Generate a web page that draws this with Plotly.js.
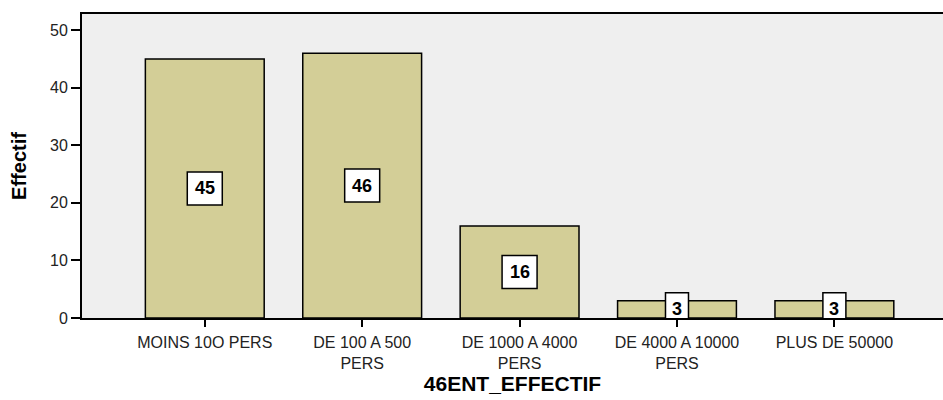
<!DOCTYPE html>
<html>
<head>
<meta charset="utf-8">
<script src="https://cdn.plot.ly/plotly-3.0.1.min.js"></script>
<style>html,body{margin:0;padding:0;background:#fff;}#chart{width:943px;height:400px;}</style>
</head>
<body>
<div id="chart"></div>
<script>
var categories = ["MOINS 10O PERS", "DE 100 A 500 PERS", "DE 1000 A 4000 PERS", "DE 4000 A 10000 PERS", "PLUS DE 50000"];
var tickLabels = ["MOINS 10O PERS", "DE 100 A 500<br>PERS", "DE 1000 A 4000<br>PERS", "DE 4000 A 10000<br>PERS", "PLUS DE 50000"];
var counts = [45, 46, 16, 3, 3];

var font = "Liberation Sans, Arial, sans-serif";

var trace = {
  type: "bar",
  x: categories,
  y: counts,
  width: 0.755,
  marker: {color: "#d3ce97", line: {color: "#000", width: 1.5}},
  hoverinfo: "x+y"
};

// label boxes: fixed pixel size, centred at half the bar height, clipped by the plot area
var shapes = counts.map(function(v, i){
  var half = String(v).length > 1 ? 17.5 : 11.5;
  return {
    type: "rect", layer: "above",
    xref: "x", yref: "y",
    xsizemode: "pixel", ysizemode: "pixel",
    xanchor: i, yanchor: v / 2,
    x0: -half, x1: half, y0: -16.5, y1: 16.5,
    fillcolor: "#fff",
    line: {color: "#000", width: 1.5}
  };
});

var annotations = counts.map(function(v, i){
  return {
    x: categories[i], y: v / 2,
    xref: "x", yref: "y",
    text: "<b>" + v + "</b>",
    showarrow: false,
    font: {family: font, size: 18, color: "#000"},
    xanchor: "center", yanchor: "middle"
  };
});

var layout = {
  width: 943, height: 400,
  margin: {l: 82, r: 0, t: 14, b: 82},
  paper_bgcolor: "#fff",
  plot_bgcolor: "#efefef",
  showlegend: false,
  font: {family: font, size: 16, color: "#222"},
  xaxis: {
    type: "category",
    range: [-0.78, 4.69],
    tickvals: categories,
    ticktext: tickLabels,
    ticks: "outside", ticklen: 7, tickwidth: 2, tickcolor: "#000",
    ticklabelstandoff: 2,
    showline: true, linecolor: "#000", linewidth: 2, mirror: true,
    showgrid: false, zeroline: false,
    tickfont: {family: font, size: 16, color: "#222"},
    title: {text: "<b>46ENT_EFFECTIF</b>", font: {family: font, size: 21, color: "#000"}, standoff: 5}
  },
  yaxis: {
    range: [0, 52.8],
    tickvals: [0, 10, 20, 30, 40, 50],
    ticks: "outside", ticklen: 9, tickwidth: 2, tickcolor: "#000",
    showline: true, linecolor: "#000", linewidth: 2, mirror: false,
    showgrid: false, zeroline: false,
    tickfont: {family: font, size: 16, color: "#222"},
    title: {text: "<b>Effectif</b>", font: {family: font, size: 20, color: "#000"}, standoff: 18}
  },
  shapes: shapes,
  annotations: annotations
};

Plotly.newPlot("chart", [trace], layout, {displayModeBar: false, staticPlot: true});
</script>
</body>
</html>
